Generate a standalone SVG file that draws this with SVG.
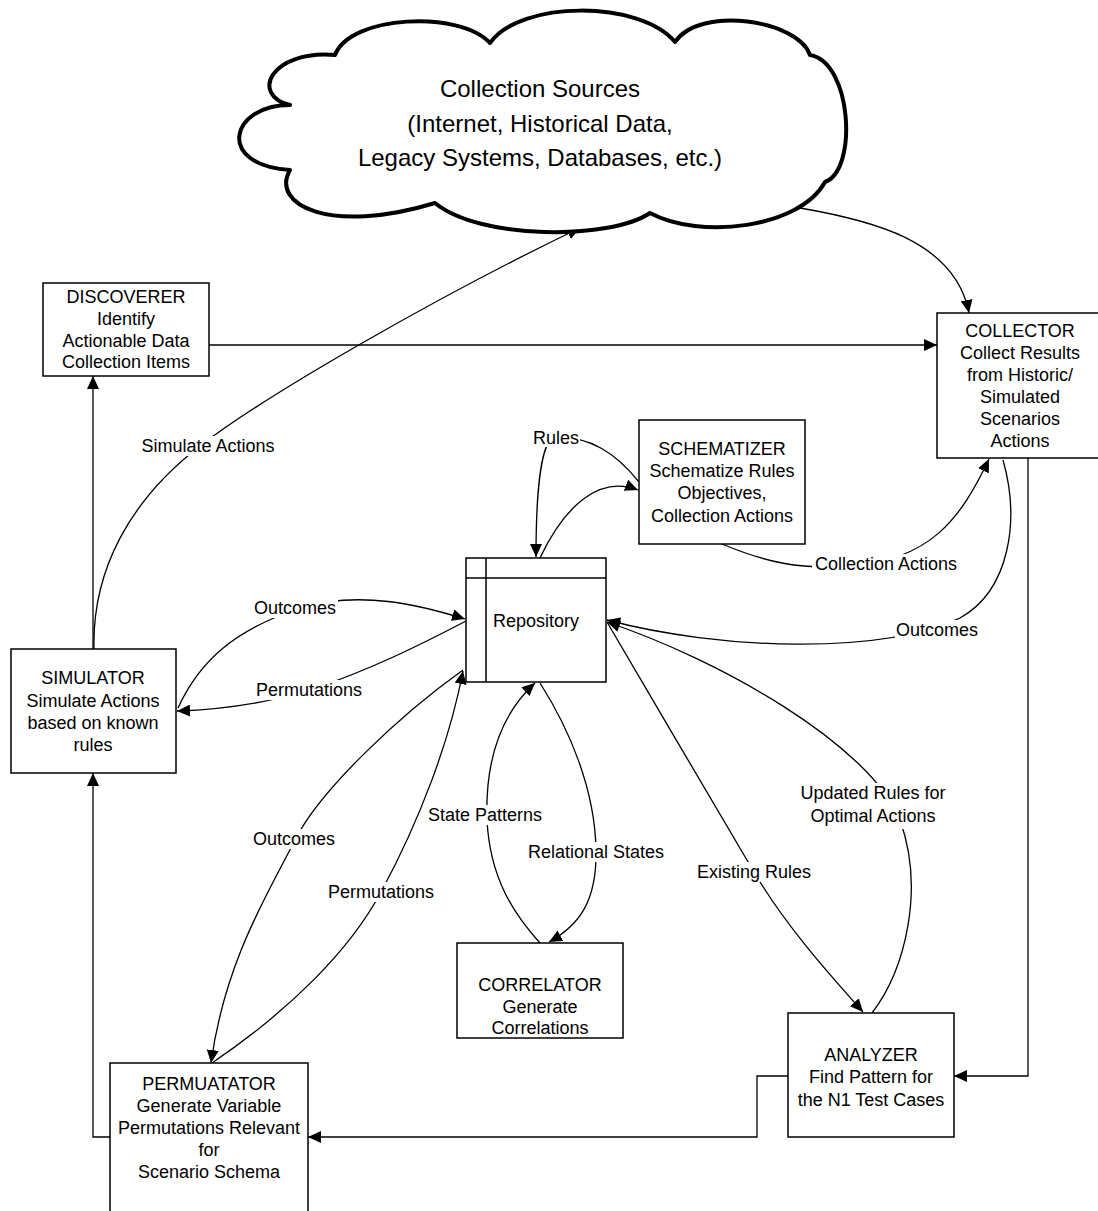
<svg xmlns="http://www.w3.org/2000/svg" width="1098" height="1211" viewBox="0 0 1098 1211">
<defs>
<marker id="arr" markerUnits="userSpaceOnUse" markerWidth="14" markerHeight="12" viewBox="0 0 14 12" refX="13" refY="6" orient="auto">
<path d="M0,0 L13,6 L0,12 z" fill="#000"/>
</marker>
<style>
text{font-family:"Liberation Sans",Arial,sans-serif;font-size:18px;fill:#000;}
.c{text-anchor:middle;}
.box{fill:#fff;stroke:#000;stroke-width:1.5;}
.cn{fill:none;stroke:#000;stroke-width:1.3;marker-end:url(#arr);}
.lbg{fill:#fff;stroke:none;}
.cloud{fill:#fff;stroke:#000;stroke-width:4;stroke-linejoin:round;}
.big{font-size:24px;}
</style>
</defs>
<rect width="1098" height="1211" fill="#fff"/>

<g id="connectors">
<path class="cn" d="M209,345 L937,345"/>
<path class="cn" d="M800,208 C870,220 955,240 969,313"/>
<path class="cn" d="M93,649 L93,376"/>
<path class="cn" d="M110,1137 L93,1137 L93,773"/>
<path class="cn" d="M788,1076 L757,1076 L757,1137 L308,1137"/>
<path class="cn" d="M1028,458 L1028,1076 L954,1076"/>
<path class="cn" d="M94,649 C92,570 130,500 200,446 S450,290 580,228"/>
<path class="cn" d="M178,708 C200,660 235,630 300,608 C360,590 420,605 465,619"/>
<path class="cn" d="M466,621 C420,645 370,670 310,690 C260,705 210,710 177,711"/>
<path class="cn" d="M463,670 C400,715 320,790 295,840 C270,890 225,960 211,1063"/>
<path class="cn" d="M212,1063 C290,1010 350,950 381,892 C420,820 450,740 463,671"/>
<path class="cn" d="M540,943 C515,915 490,880 487,820 C485,760 500,715 535,683"/>
<path class="cn" d="M540,683 C570,730 595,790 596,850 C597,900 580,925 549,942"/>
<path class="cn" d="M607,622 C650,695 720,815 754,872 C785,925 830,975 863,1012"/>
<path class="cn" d="M872,1013 C905,970 925,890 900,820 C870,745 720,660 607,622"/>
<path class="cn" d="M1003,460 C1020,520 1010,590 960,618 C880,655 720,650 607,620"/>
<path class="cn" d="M722,544 C765,562 800,570 850,566 C930,560 960,520 989,459"/>
<path class="cn" d="M639,482 C615,452 590,437 556,437 C540,437 536,500 536,557"/>
<path class="cn" d="M540,558 C565,505 600,475 638,490"/>
</g>

<g id="labels">
<rect class="lbg" x="140" y="436" width="137" height="20"/>
<text class="c" x="208" y="452">Simulate Actions</text>
<rect class="lbg" x="252" y="598" width="86" height="20"/>
<text class="c" x="295" y="614">Outcomes</text>
<rect class="lbg" x="254" y="680" width="110" height="20"/>
<text class="c" x="309" y="696">Permutations</text>
<rect class="lbg" x="532" y="427" width="48" height="20"/>
<text class="c" x="556" y="444">Rules</text>
<rect class="lbg" x="812" y="554" width="148" height="20"/>
<text class="c" x="886" y="570">Collection Actions</text>
<rect class="lbg" x="895" y="620" width="85" height="20"/>
<text class="c" x="937" y="636">Outcomes</text>
<rect class="lbg" x="251" y="829" width="86" height="20"/>
<text class="c" x="294" y="845">Outcomes</text>
<rect class="lbg" x="326" y="882" width="110" height="20"/>
<text class="c" x="381" y="898">Permutations</text>
<rect class="lbg" x="427" y="805" width="117" height="20"/>
<text class="c" x="485" y="821">State Patterns</text>
<rect class="lbg" x="527" y="842" width="139" height="20"/>
<text class="c" x="596" y="858">Relational States</text>
<rect class="lbg" x="696" y="862" width="117" height="20"/>
<text class="c" x="754" y="878">Existing Rules</text>
<rect class="lbg" x="791" y="783" width="163" height="46"/>
<text class="c" x="873" y="799">Updated Rules for</text>
<text class="c" x="873" y="822">Optimal Actions</text>
</g>

<g id="cloud">
<path class="cloud" d="M290,105 C230,105 215,165 290,170 C270,205 330,235 435,203 C480,240 610,240 650,213 C700,240 800,228 825,182 C858,170 852,62 810,55 C798,20 700,5 675,42 C640,0 520,0 490,43 C460,10 350,15 335,55 C270,50 250,95 290,105 Z"/>
<text class="c big" x="540" y="97">Collection Sources</text>
<text class="c big" x="540" y="132">(Internet, Historical Data,</text>
<text class="c big" x="540" y="166">Legacy Systems, Databases, etc.)</text>
</g>

<g id="discoverer">
<rect class="box" x="43" y="283" width="166" height="93"/>
<text class="c" x="126" y="303">DISCOVERER</text>
<text class="c" x="126" y="325">Identify</text>
<text class="c" x="126" y="347">Actionable Data</text>
<text class="c" x="126" y="368">Collection Items</text>
</g>

<g id="collector">
<rect class="box" x="937" y="313" width="170" height="145"/>
<text class="c" x="1020" y="337">COLLECTOR</text>
<text class="c" x="1020" y="359">Collect Results</text>
<text class="c" x="1020" y="381">from Historic/</text>
<text class="c" x="1020" y="403">Simulated</text>
<text class="c" x="1020" y="425">Scenarios</text>
<text class="c" x="1020" y="447">Actions</text>
</g>

<g id="schematizer">
<rect class="box" x="639" y="420" width="166" height="124"/>
<text class="c" x="722" y="455">SCHEMATIZER</text>
<text class="c" x="722" y="477">Schematize Rules</text>
<text class="c" x="722" y="499">Objectives,</text>
<text class="c" x="722" y="522">Collection Actions</text>
</g>

<g id="repository">
<rect class="box" x="466" y="558" width="140" height="124"/>
<line x1="486" y1="558" x2="486" y2="682" stroke="#000" stroke-width="1.5"/>
<line x1="466" y1="578" x2="606" y2="578" stroke="#000" stroke-width="1.5"/>
<text x="493" y="627">Repository</text>
</g>

<g id="simulator">
<rect class="box" x="11" y="649" width="165" height="124"/>
<text class="c" x="93" y="684">SIMULATOR</text>
<text class="c" x="93" y="707">Simulate Actions</text>
<text class="c" x="93" y="729">based on known</text>
<text class="c" x="93" y="751">rules</text>
</g>

<g id="correlator">
<rect class="box" x="457" y="943" width="166" height="95"/>
<text class="c" x="540" y="991">CORRELATOR</text>
<text class="c" x="540" y="1013">Generate</text>
<text class="c" x="540" y="1034">Correlations</text>
</g>

<g id="analyzer">
<rect class="box" x="788" y="1013" width="166" height="124"/>
<text class="c" x="871" y="1061">ANALYZER</text>
<text class="c" x="871" y="1083">Find Pattern for</text>
<text class="c" x="871" y="1106">the N1 Test Cases</text>
</g>

<g id="permutator">
<rect class="box" x="110" y="1063" width="198" height="160"/>
<text class="c" x="209" y="1090">PERMUATATOR</text>
<text class="c" x="209" y="1112">Generate Variable</text>
<text class="c" x="209" y="1134">Permutations Relevant</text>
<text class="c" x="209" y="1156">for</text>
<text class="c" x="209" y="1178">Scenario Schema</text>
</g>
</svg>
